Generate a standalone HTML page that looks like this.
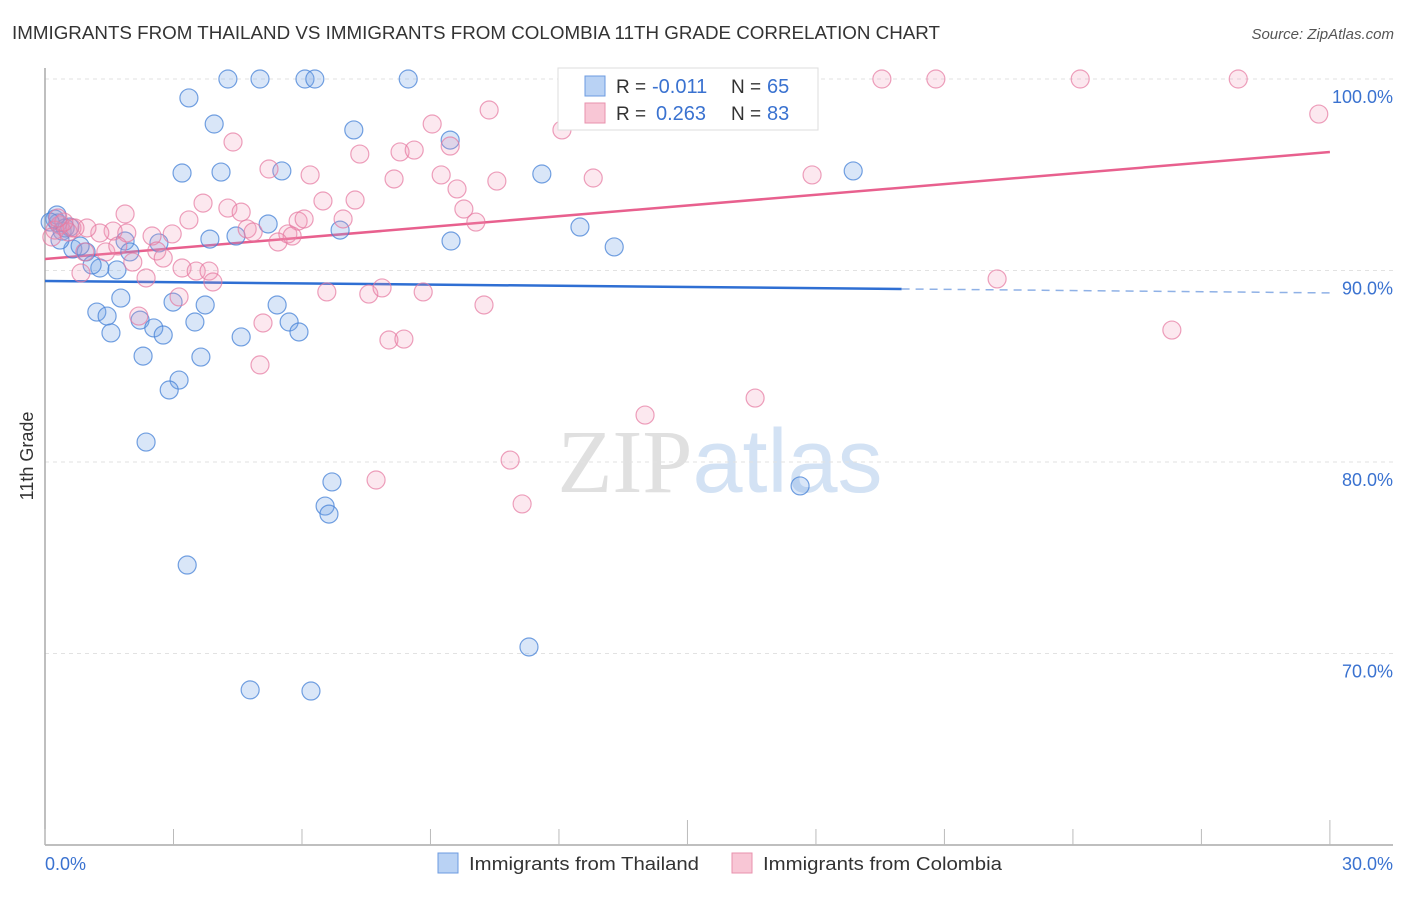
<!DOCTYPE html>
<html><head><meta charset="utf-8"><style>
body{margin:0;background:#fff;font-family:"Liberation Sans",sans-serif;}
svg text{font-family:"Liberation Sans",sans-serif;}
</style></head><body>
<svg id="chart" width="1406" height="892" xmlns="http://www.w3.org/2000/svg">
<text x="12" y="39" font-size="18" fill="#333" textLength="928" lengthAdjust="spacingAndGlyphs">IMMIGRANTS FROM THAILAND VS IMMIGRANTS FROM COLOMBIA 11TH GRADE CORRELATION CHART</text>
<text x="1394" y="39" font-size="15" fill="#555" text-anchor="end" font-style="italic">Source: ZipAtlas.com</text>
<text x="720" y="492" font-size="90" text-anchor="middle"><tspan fill="#e0e0e0" font-family="Liberation Serif">ZIP</tspan><tspan fill="#d3e2f4">atlas</tspan></text>
<text transform="translate(33,456) rotate(-90)" font-size="18" fill="#333" text-anchor="middle">11th Grade</text>
<g id="grid"></g><g id="axes"></g><g id="trends"></g><g id="points"></g>
<g>
<rect x="558" y="68" width="260" height="62" fill="#fff" stroke="#ddd"/>
<rect x="585" y="76" width="20" height="20" fill="#b9d2f4" stroke="#6c9be0"/>
<text x="616" y="93" font-size="19" fill="#333">R =</text>
<text x="652" y="93" font-size="20" fill="#3a72d0">-0.011</text>
<text x="731" y="93" font-size="19" fill="#333">N =</text>
<text x="767" y="93" font-size="20" fill="#3a72d0">65</text>
<rect x="585" y="103" width="20" height="20" fill="#f8c6d5" stroke="#e891ad"/>
<text x="616" y="120" font-size="19" fill="#333">R =</text>
<text x="656" y="120" font-size="20" fill="#3a72d0">0.263</text>
<text x="731" y="120" font-size="19" fill="#333">N =</text>
<text x="767" y="120" font-size="20" fill="#3a72d0">83</text>
</g>
<g>
<rect x="438" y="853" width="20" height="20" fill="#b9d2f4" stroke="#6c9be0"/>
<text x="469" y="870" font-size="18" fill="#333" textLength="230" lengthAdjust="spacingAndGlyphs">Immigrants from Thailand</text>
<rect x="732" y="853" width="20" height="20" fill="#f8c6d5" stroke="#e891ad"/>
<text x="763" y="870" font-size="18" fill="#333" textLength="239" lengthAdjust="spacingAndGlyphs">Immigrants from Colombia</text>
</g>
</svg>
<script>
const yTicks=[100,90,80,70];
const yTickLabels=["100.0%","90.0%","80.0%","70.0%"];
const xTicks=[0,3,6,9,12,15,18,21,24,27,30];
const xTickLabels=["0.0%","30.0%"];
const thaiX=[4.27,5.02,6.07,6.30,8.48,3.36,3.95,7.21,9.46,3.20,4.11,5.53,11.60,18.87,5.21,6.89,12.49,3.85,4.46,9.48,13.29,1.87,2.66,0.65,0.96,1.98,1.68,1.28,1.10,1.77,1.21,1.45,2.99,3.74,5.42,2.22,3.50,5.70,1.54,2.54,2.76,4.58,5.93,2.29,3.64,3.13,2.90,2.36,6.70,6.54,6.63,17.63,3.32,11.30,4.79,6.21,0.23,0.30,0.40,0.58,0.82,0.28,0.47,0.12,0.35];
const thaiY=[100,100,100,100,100,99.01,97.65,97.34,96.81,95.09,95.14,95.20,95.04,95.20,92.43,92.11,92.27,91.64,91.80,91.54,91.23,91.54,91.44,91.12,90.97,90.97,90.03,90.13,90.29,88.56,87.83,87.62,88.35,88.20,88.20,87.41,87.31,87.31,86.74,87.00,86.63,86.53,86.79,85.53,85.48,84.28,83.76,81.04,78.96,77.70,77.28,78.75,74.62,70.34,68.10,68.04,92.69,92.48,92.06,92.27,91.28,92.90,92.22,92.53,91.59];
const colX=[13.80,19.54,20.80,24.17,27.86,29.74,10.37,9.04,12.07,4.39,9.46,7.35,8.29,8.62,5.23,6.19,8.15,9.25,10.55,12.80,17.91,9.62,3.69,6.49,7.24,9.78,4.27,4.58,1.87,3.36,5.91,6.05,6.96,10.06,4.72,4.86,5.67,5.77,5.44,2.50,2.97,1.59,1.91,1.28,0.98,0.63,0.93,1.42,1.70,2.61,2.76,2.05,2.36,0.84,3.20,3.53,3.83,3.92,3.13,6.58,7.56,7.87,8.83,10.25,22.23,5.09,2.19,8.03,8.38,26.31,5.02,14.01,16.58,10.86,7.73,11.14,0.35,0.23,0.16,0.54,0.70,0.44,0.30];
const colY=[100,100,100,100,100,98.17,98.38,97.65,97.34,96.71,96.50,96.08,96.19,96.29,95.30,94.99,94.78,94.99,94.67,94.83,94.99,94.26,93.52,93.63,93.68,93.21,93.26,93.05,92.95,92.64,92.58,92.69,92.69,92.53,92.17,92.01,91.91,91.80,91.49,91.80,91.91,92.06,91.96,91.96,92.22,92.22,90.97,90.97,91.28,91.02,90.65,90.44,89.61,89.87,90.13,89.97,89.97,89.40,88.62,88.88,88.77,89.09,88.88,88.20,89.56,87.26,87.62,86.37,86.42,86.89,85.07,82.45,83.34,80.10,79.06,77.81,92.38,92.11,91.75,92.01,92.22,92.53,92.74];
const thaiTrend=[89.45,88.83];
const colTrend=[90.60,96.19];
const NS="http://www.w3.org/2000/svg";
const xs=v=>45+v*42.83;
const ys=v=>79+(100-v)*19.15;
function mk(tag,attrs,parent){const e=document.createElementNS(NS,tag);for(const k in attrs)e.setAttribute(k,attrs[k]);parent.appendChild(e);return e;}
const grid=document.getElementById('grid'),axes=document.getElementById('axes'),trends=document.getElementById('trends'),pts=document.getElementById('points');
yTicks.forEach((t,i)=>{
 const l=mk('line',{x1:45,x2:1393,y1:ys(t),y2:ys(t),stroke:'#e2e2e2','stroke-dasharray':'4,4'},grid);
 
 
 const tx=mk('text',{x:1393,y:ys(t)+24,'font-size':18,fill:'#3a72d0','text-anchor':'end'},grid);
 tx.textContent=yTickLabels[i];
 
 
});
const ya=mk('line',{x1:45,x2:45,y1:68,y2:845,stroke:'#aaa','stroke-width':1.5},axes);


const xa=mk('line',{x1:45,x2:1393,y1:845,y2:845,stroke:'#aaa','stroke-width':1.5},axes);


xTicks.forEach(t=>{
 const tall=(t===15||t===30);
 const tk=mk('line',{x1:xs(t),x2:xs(t),y1:tall?820:829,y2:845,stroke:'#bbb'},axes);
 
 
});
const xl0=mk('text',{x:45,y:870,'font-size':18,fill:'#3a72d0'},axes);xl0.textContent=xTickLabels[0];


const xl1=mk('text',{x:1393,y:870,'font-size':18,fill:'#3a72d0','text-anchor':'end'},axes);xl1.textContent=xTickLabels[1];


const tAt=(tr,x)=>tr[0]+(tr[1]-tr[0])*x/30;
const bt=mk('line',{x1:xs(0),y1:ys(tAt(thaiTrend,0)),x2:xs(20),y2:ys(tAt(thaiTrend,20)),stroke:'#2f6fd3','stroke-width':2.5},trends);


const bd=mk('line',{x1:xs(20),y1:ys(tAt(thaiTrend,20)),x2:xs(30),y2:ys(tAt(thaiTrend,30)),stroke:'#8fb1e6','stroke-width':1.5,'stroke-dasharray':'8,6'},trends);


const pt=mk('line',{x1:xs(0),y1:ys(colTrend[0]),x2:xs(30),y2:ys(colTrend[1]),stroke:'#e8608e','stroke-width':2.5},trends);


thaiX.forEach((x,i)=>{
 const c=mk('circle',{cx:xs(x),cy:ys(thaiY[i]),r:9,fill:'rgba(120,165,230,0.28)',stroke:'rgba(70,130,215,0.75)','stroke-width':1.2},pts);
 
 
});
colX.forEach((x,i)=>{
 const c=mk('circle',{cx:xs(x),cy:ys(colY[i]),r:9,fill:'rgba(240,150,180,0.22)',stroke:'rgba(230,120,160,0.7)','stroke-width':1.2},pts);
 
 
});
</script>
</body></html>
